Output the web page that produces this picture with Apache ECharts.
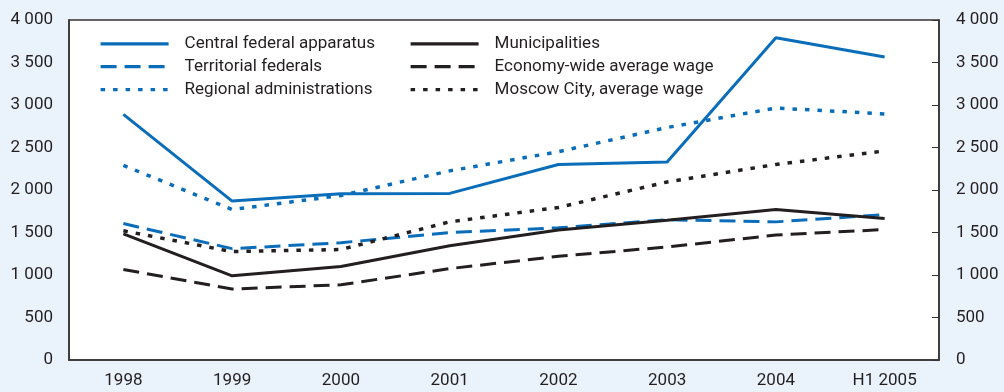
<!DOCTYPE html>
<html>
<head>
<meta charset="utf-8">
<script src="https://cdn.jsdelivr.net/npm/echarts@6/dist/echarts.min.js"></script>
<style>
  html, body { margin: 0; padding: 0; background: #eaf3fc; }
  #chart { width: 1004px; height: 392px; }
</style>
</head>
<body>
<div id="chart"></div>
<script>
// Average monthly wages, roubles
const categories = ['1998', '1999', '2000', '2001', '2002', '2003', '2004', 'H1 2005'];
const centralFederal   = [2890, 1870, 1955, 1960, 2300, 2330, 3790, 3565];
const territorialFed   = [1605, 1310, 1380, 1500, 1555, 1650, 1625, 1710];
const regionalAdmin    = [2290, 1770, 1935, 2225, 2450, 2735, 2965, 2895];
const municipalities   = [1485, 990, 1100, 1345, 1530, 1645, 1770, 1665];
const economyWide      = [1065, 835, 885, 1075, 1220, 1330, 1470, 1535];
const moscowCity       = [1520, 1275, 1300, 1625, 1795, 2095, 2300, 2460];
const yTicks = { min: 0, max: 4000, step: 500 };

const BLUE = '#0a6db9';
const BLACK = '#231f20';
const FONT = 'Roboto, "Liberation Sans", sans-serif';
const DASH = [16, 8];
const DOT = [4.5, 8];

function fmt(v) {
  return String(v).replace(/\B(?=(\d{3})+(?!\d))/g, ' ');
}

function line(name, data, color, type, width) {
  return {
    name: name,
    type: 'line',
    data: data,
    symbol: 'none',
    smooth: false,
    lineStyle: { color: color, type: type, width: width, cap: 'butt' },
    itemStyle: { color: color },
    emphasis: { disabled: true },
    z: 3
  };
}

// legend keys show only the line stroke (marker hidden)
const legendBase = {
  orient: 'vertical',
  itemWidth: 68,
  itemHeight: 16,
  itemGap: 5.9,
  top: 30.3,
  selectedMode: false,
  itemStyle: { opacity: 0, borderWidth: 0 },
  lineStyle: { width: 3.2 },
  textStyle: { fontFamily: FONT, fontSize: 17, color: BLACK, lineHeight: 16, padding: [0, 0, 0, 11] }
};

const chart = echarts.init(document.getElementById('chart'), null, { renderer: 'canvas' });
chart.setOption({
  backgroundColor: '#eaf3fc',
  animation: false,
  grid: {
    left: 69, right: 65, top: 20, bottom: 32,
    show: true, backgroundColor: '#ffffff', borderColor: '#333333', borderWidth: 1.5
  },
  legend: [
    Object.assign({}, legendBase, { left: 94, data: ['Central federal apparatus', 'Territorial federals', 'Regional administrations'] }),
    Object.assign({}, legendBase, { left: 404, data: ['Municipalities', 'Economy-wide average wage', 'Moscow City, average wage'] })
  ],
  xAxis: {
    type: 'category',
    data: categories,
    boundaryGap: true,
    axisLine: { lineStyle: { color: '#333333', width: 1.5 } },
    axisTick: { inside: true, length: 7, lineStyle: { color: '#333333', width: 1 } },
    axisLabel: { fontFamily: FONT, fontSize: 17, color: BLACK, margin: 12 },
    splitLine: { show: false }
  },
  yAxis: [
    {
      type: 'value', position: 'left',
      min: yTicks.min, max: yTicks.max, interval: yTicks.step,
      axisLine: { show: true, lineStyle: { color: '#333333', width: 1.5 } },
      axisTick: { show: false },
      splitLine: { show: false },
      axisLabel: { fontFamily: FONT, fontSize: 17, color: BLACK, margin: 16, formatter: fmt }
    },
    {
      type: 'value', position: 'right',
      min: yTicks.min, max: yTicks.max, interval: yTicks.step,
      axisLine: { show: true, lineStyle: { color: '#333333', width: 1.5 } },
      axisTick: { show: true, inside: true, length: 7, lineStyle: { color: '#333333', width: 1 } },
      splitLine: { show: false },
      axisLabel: { fontFamily: FONT, fontSize: 17, color: BLACK, margin: 17, formatter: fmt }
    }
  ],
  series: [
    line('Central federal apparatus', centralFederal, BLUE, 'solid', 3),
    line('Territorial federals', territorialFed, BLUE, DASH, 3),
    line('Regional administrations', regionalAdmin, BLUE, DOT, 3.5),
    line('Municipalities', municipalities, BLACK, 'solid', 3),
    line('Economy-wide average wage', economyWide, BLACK, DASH, 3),
    line('Moscow City, average wage', moscowCity, BLACK, DOT, 3.5)
  ]
});
</script>
</body>
</html>
